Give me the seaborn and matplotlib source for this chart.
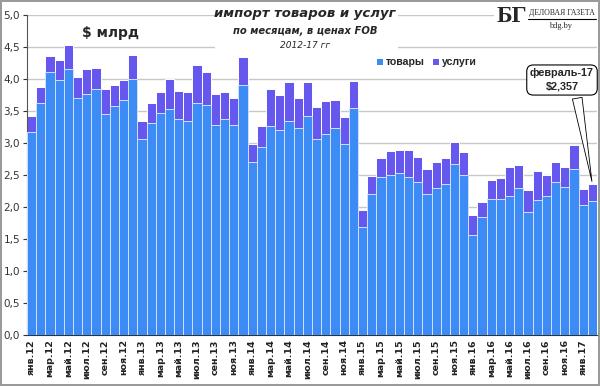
import matplotlib
matplotlib.use('Agg')
import matplotlib.pyplot as plt
import seaborn as sns
import pandas as pd
from matplotlib.ticker import FuncFormatter

# данные: импорт товаров и услуг по месяцам, $ млрд (янв.12 - фев.17)
month_names = ['янв', 'фев', 'мар', 'апр', 'май', 'июн', 'июл', 'авг', 'сен', 'окт', 'ноя', 'дек']
months = [f'{m}.{y}' for y in range(12, 18) for m in month_names][:62]

goods = [3.17, 3.63, 4.11, 3.98, 4.15, 3.70, 3.77, 3.84, 3.45, 3.58, 3.67, 4.00,
         3.06, 3.32, 3.47, 3.53, 3.37, 3.34, 3.63, 3.59, 3.28, 3.38, 3.28, 3.91,
         2.70, 2.94, 3.27, 3.20, 3.34, 3.23, 3.42, 3.07, 3.14, 3.24, 2.99, 3.54,
         1.69, 2.21, 2.47, 2.50, 2.53, 2.47, 2.39, 2.21, 2.30, 2.36, 2.67, 2.50,
         1.56, 1.84, 2.13, 2.13, 2.17, 2.29, 1.93, 2.11, 2.18, 2.39, 2.31, 2.59,
         2.03, 2.10]
total = [3.42, 3.88, 4.36, 4.29, 4.53, 4.03, 4.16, 4.18, 3.85, 3.90, 3.98, 4.37,
         3.34, 3.62, 3.79, 4.00, 3.81, 3.80, 4.22, 4.11, 3.77, 3.79, 3.71, 4.35,
         2.98, 3.27, 3.85, 3.75, 3.95, 3.71, 3.95, 3.56, 3.65, 3.67, 3.40, 3.97,
         1.95, 2.48, 2.77, 2.88, 2.89, 2.89, 2.78, 2.59, 2.71, 2.77, 3.01, 2.86,
         1.87, 2.08, 2.43, 2.45, 2.62, 2.66, 2.26, 2.56, 2.50, 2.70, 2.62, 2.97,
         2.28, 2.357]
services = [round(t - g, 3) for t, g in zip(total, goods)]

goods_color = '#3d8bf5'
services_color = '#6658ee'

sns.set_style('white')
plt.rcParams['font.family'] = ['DejaVu Sans']

df = pd.DataFrame({'месяц': months, 'товары': goods, 'услуги': services})
df['всего'] = df['товары'] + df['услуги']

fig = plt.figure(figsize=(6, 3.86), dpi=100, linewidth=1.5, edgecolor='#9a9a9a')
ax = fig.add_axes([0.045, 0.132, 0.95, 0.829])

# stacked: сначала сумма (услуги сверху), потом товары поверх
sns.barplot(data=df, x='месяц', y='всего', color=services_color, saturation=1,
            width=1.0, edgecolor='white', linewidth=0.7, ax=ax, zorder=2)
sns.barplot(data=df, x='месяц', y='товары', color=goods_color, saturation=1,
            width=1.0, edgecolor='#cfe0ff', linewidth=0.7, ax=ax, zorder=3)

ax.set_xlim(-0.5, len(months) - 0.5)
ax.set_ylim(0, 5)
ax.set_yticks([i * 0.5 for i in range(11)])
ax.yaxis.set_major_formatter(FuncFormatter(lambda v, p: f'{v:.1f}'.replace('.', ',')))
ax.grid(axis='y', color='#c8c8c8', linewidth=1, zorder=0)
ax.set_axisbelow(True)
ax.set_xlabel('')
ax.set_ylabel('')

ax.set_xticks(range(0, len(months), 2))
ax.set_xticklabels(months[::2], rotation=90, fontsize=6.8, fontweight='bold', color='#222222')
ax.tick_params(axis='x', length=0, pad=3)
ax.tick_params(axis='y', length=3, direction='out', labelsize=7.5, colors='#333333', pad=2, left=True)

for s in ['top', 'right']:
    ax.spines[s].set_visible(False)
ax.spines['left'].set_color('#555555')
ax.spines['bottom'].set_color('#333333')

# заголовок на белой подложке
fig.patches.append(plt.Rectangle((215 / 600, 1 - 52 / 386), 183 / 600, 48 / 386,
                                 transform=fig.transFigure, facecolor='white', edgecolor='none', zorder=5))
fig.text(0.508, 1 - 13 / 386, 'импорт товаров и услуг', ha='center', va='center',
         fontsize=9.5, fontweight='bold', style='italic', zorder=6)
fig.text(0.508, 1 - 31 / 386, 'по месяцам, в ценах FOB', ha='center', va='center',
         fontsize=7.2, fontweight='bold', style='italic', zorder=6)
fig.text(0.508, 1 - 45 / 386, '2012-17 гг', ha='center', va='center',
         fontsize=6.5, style='italic', zorder=6)

fig.text(0.185, 1 - 33 / 386, '$ млрд', ha='center', va='center',
         fontsize=10, fontweight='bold', zorder=6)

# легенда
fig.patches.append(plt.Rectangle((377 / 600, 1 - 65 / 386), 6 / 600, 6 / 386,
                                 transform=fig.transFigure, facecolor=goods_color, edgecolor='none', zorder=6))
fig.text(386 / 600, 1 - 62 / 386, 'товары', fontsize=7.6, fontweight='bold', family='Liberation Sans',
         va='center', ha='left', zorder=6)
fig.patches.append(plt.Rectangle((433 / 600, 1 - 65 / 386), 6 / 600, 6 / 386,
                                 transform=fig.transFigure, facecolor=services_color, edgecolor='none', zorder=6))
fig.text(442 / 600, 1 - 62 / 386, 'услуги', fontsize=7.6, fontweight='bold', family='Liberation Sans',
         va='center', ha='left', zorder=6)

# логотип
fig.patches.append(plt.Rectangle((494 / 600, 1 - 32 / 386), 104 / 600, 30 / 386,
                                 transform=fig.transFigure, facecolor='white', edgecolor='none', zorder=5))
fig.text(497 / 600, 1 - 16 / 386, 'БГ', fontsize=17, fontweight='bold', family='Liberation Serif',
         va='center', ha='left', zorder=6)
fig.text(562 / 600, 1 - 13 / 386, 'ДЕЛОВАЯ ГАЗЕТА', fontsize=5.6, family='Liberation Serif',
         va='center', ha='center', zorder=6)
fig.lines.append(plt.Line2D([528 / 600, 596 / 600], [1 - 19 / 386, 1 - 19 / 386],
                            transform=fig.transFigure, color='black', linewidth=0.8, zorder=6))
fig.text(561 / 600, 1 - 26 / 386, 'bdg.by', fontsize=6, family='Liberation Serif',
         va='center', ha='center', zorder=6)

# выноска для последнего месяца
ax.annotate('февраль-17\n$2,357', xy=(len(months) - 1, total[-1]),
            xycoords='data', xytext=(0.9386, 0.797), textcoords='axes fraction',
            ha='center', va='center', fontsize=7.8, fontweight='bold', family='Liberation Sans',
            linespacing=1.45,
            bbox=dict(boxstyle='round,pad=0.3,rounding_size=0.6', fc='white', ec='black', lw=0.8),
            arrowprops=dict(arrowstyle='wedge,tail_width=0.9,shrink_factor=0.5', fc='white', ec='black',
                            lw=0.6, relpos=(0.72, 0.0)),
            zorder=7)

fig.savefig('out.png', dpi=100)
